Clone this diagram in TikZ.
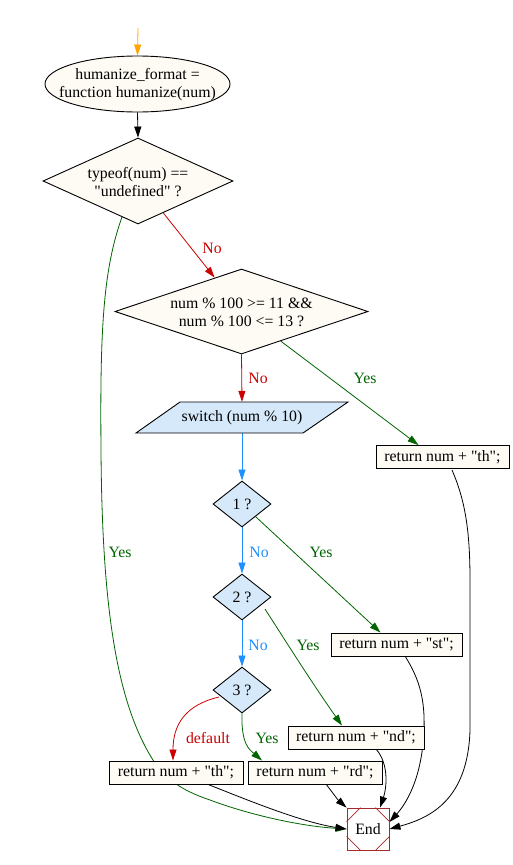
\documentclass[tikz,border=0pt]{standalone}
\usepackage{fontspec}
\setmainfont{Liberation Serif}[Ligatures=TeXOff]
\usetikzlibrary{shapes.geometric,arrows.meta,calc}
\definecolor{cream}{RGB}{254,250,244}
\definecolor{lblue}{RGB}{214,233,250}
\definecolor{egreen}{RGB}{0,100,0}
\definecolor{ered}{RGB}{204,0,0}
\definecolor{eblue}{RGB}{30,144,255}
\definecolor{eorange}{RGB}{255,165,0}
\definecolor{ebrown}{RGB}{165,42,42}
\pgfdeclarelayer{bg}
\pgfdeclarelayer{canvas}
\pgfsetlayers{canvas,bg,main}
\tikzset{
  ell/.style={ellipse,draw,fill=cream,inner sep=0pt,line width=0.9pt},
  dia/.style={diamond,draw,fill=cream,inner sep=0pt,line width=0.9pt},
  sdia/.style={diamond,draw,fill=lblue,inner sep=0pt,line width=0.9pt,minimum width=58pt,minimum height=46pt,shape aspect=1.26},
  rbox/.style={rectangle,draw,fill=cream,inner sep=0pt,line width=0.9pt,minimum height=23pt},
  txt/.style={inner sep=0pt,align=center},
  lab/.style={inner sep=0pt},
  edge/.style={line width=0.8pt,-{Triangle[length=11pt,width=7pt]}},
}
\begin{document}
\begin{tikzpicture}[x=1pt,y=-1pt,font=\fontsize{15.8}{18}\selectfont]
\begin{pgfonlayer}{canvas}
\fill[white] (0,0) rectangle (512,865);
\end{pgfonlayer}
\useasboundingbox (0,0) rectangle (512,865);

% nodes
\node[ell,minimum width=185pt,minimum height=56pt] (fn) at (137.5,84) {};
\node[txt] (fnt) at (137.5,85) {humanize\_format =\\function humanize(num)};

\node[dia,minimum width=190pt,minimum height=86pt,shape aspect=2.2] (d1) at (138,181) {};
\node[txt] (d1t) at (138,182) {typeof(num) ==\\"undefined" ?};

\node[dia,minimum width=253pt,minimum height=85pt,shape aspect=2.98] (d2) at (241.5,311.5) {};
\node[txt] (d2t) at (241.5,312.5) {num \% 100 >= 11 \&\&\\num \% 100 <= 13 ?};

\path[draw,fill=lblue,line width=0.9pt] (180,402) -- (348,402) -- (303,433) -- (136,433) -- cycle;
\node[inner sep=0pt,minimum width=168pt,minimum height=31pt] (sw) at (242,417.5) {switch (num \% 10)};

\node[rbox,minimum width=133pt] (th1) at (442.5,457) {return num + "th";};

\node[sdia] (n1) at (242,504) {1 ?};
\node[sdia] (n2) at (242,597) {2 ?};
\node[sdia] (n3) at (242,690) {3 ?};

\node[rbox,minimum width=131pt] (st) at (396.5,644.5) {return num + "st";};
\node[rbox,minimum width=136pt] (nd) at (356,737.5) {return num + "nd";};
\node[rbox,minimum width=134pt] (th2) at (176,772.5) {return num + "th";};
\node[rbox,minimum width=134pt] (rd) at (315,772.5) {return num + "rd";};

\node[rectangle,draw=ebrown,fill=white,line width=0.9pt,minimum width=42pt,minimum height=42pt,inner sep=0pt] (end) at (368,829) {End};
\draw[ebrown,line width=0.6pt] ($(end.north west)+(0,14)$) -- ($(end.north west)+(14,0)$);
\draw[ebrown,line width=0.6pt] ($(end.north east)+(-14,0)$) -- ($(end.north east)+(0,14)$);
\draw[ebrown,line width=0.6pt] ($(end.south west)+(0,-14)$) -- ($(end.south west)+(14,0)$);
\draw[ebrown,line width=0.6pt] ($(end.south east)+(-14,0)$) -- ($(end.south east)+(0,-14)$);

\coordinate (s0) at (138,28);

% edges
\begin{pgfonlayer}{bg}
\draw[edge,eorange] (s0) -- (fn.north);
\draw[edge,black] (fn.south) -- (d1.north);
\draw[edge,ered] (d1) -- (d2);
\node[lab,text=ered] (l1) at (212,248) {No};
\draw[edge,ered] (d2.south) -- (sw.north);
\node[lab,text=ered] (l2) at (258,378) {No};
\draw[edge,egreen] (d2) -- ([xshift=-24pt]th1.north);
\node[lab,text=egreen] (l3) at (365,378) {Yes};
\draw[edge,eblue] (sw.south) -- (n1.north);
\draw[edge,eblue] (n1.south) -- (n2.north);
\node[lab,text=eblue] (l4) at (259,552) {No};
\draw[edge,egreen] (n1) -- ([xshift=-16pt]st.north);
\node[lab,text=egreen] (l5) at (321,552) {Yes};
\draw[edge,eblue] (n2.south) -- (n3.north);
\node[lab,text=eblue] (l6) at (258,645) {No};
\draw[edge,egreen] (265,609) .. controls (285,640) and (310,680) .. ([xshift=-14pt]nd.north);
\node[lab,text=egreen] (l7) at (308,645) {Yes};
\draw[edge,ered] (219,697) .. controls (185,705) and (173,725) .. ([xshift=-3pt]th2.north);
\node[lab,text=ered] (l8) at (208,738) {default};
\draw[edge,egreen] (n3.south) .. controls (241,745) and (250,750) .. ([xshift=-53pt]rd.north);
\node[lab,text=egreen] (l9) at (267,738) {Yes};
\draw[edge,egreen] (122,217) .. controls (103,270) and (100,330) .. (101,450)
  .. controls (102,600) and (115,700) .. (153,760)
  .. controls (165,778) and (180,790) .. (210,800)
  .. controls (250,815) and (300,826) .. (end.west);
\node[lab,text=egreen] (l10) at (120,552) {Yes};
\draw[edge,black] (207,784) .. controls (240,797) and (300,822) .. (end.west);
\draw[edge,black] (326,784) .. controls (332,792) and (338,800) .. (end.north west);
\draw[edge,black] (376,749) .. controls (390,765) and (386,790) .. ([xshift=12pt]end.north);
\draw[edge,black] (405,656) .. controls (420,680) and (425,700) .. (424,730)
  .. controls (422,780) and (405,805) .. ([yshift=7pt]end.east);
\draw[edge,black] (452,470) .. controls (465,500) and (470,530) .. (470,580)
  -- (470,730) .. controls (468,800) and (430,818) .. (end.east);
\end{pgfonlayer}
\end{tikzpicture}
\end{document}
